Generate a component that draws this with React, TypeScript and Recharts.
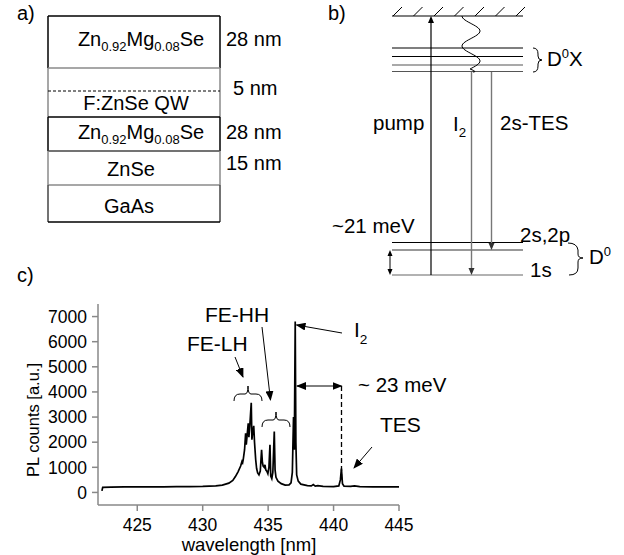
import React from "react";
import { LineChart, Line, XAxis, YAxis } from "recharts";

// PL spectrum (wavelength in nm, counts in a.u.)
const wavelength = [
  422.3, 422.36, 423, 424, 425, 426, 427, 428, 429, 430, 431, 431.5, 432, 432.3, 432.5, 432.7, 432.9, 433.0,
  433.05, 433.1, 433.2, 433.28, 433.33, 433.4, 433.48, 433.53, 433.6, 433.71, 433.76, 433.82, 433.9, 433.96,
  434.05, 434.12, 434.2, 434.3, 434.4, 434.5, 434.56, 434.62, 434.7, 434.76, 434.82, 434.9, 434.98, 435.06,
  435.14, 435.2, 435.28, 435.36, 435.47, 435.53, 435.6, 435.75, 436.0, 436.3, 436.6, 436.75, 436.85, 436.94,
  437.0, 437.07, 437.12, 437.18, 437.3, 437.5, 438.0, 438.3, 438.45, 438.6, 438.8, 439.2, 440.0, 440.4,
  440.52, 440.6, 440.68, 440.8, 441.3, 441.6, 442, 443, 444, 445,
];
const counts = [
  60, 200, 215, 220, 220, 225, 225, 230, 235, 240, 260, 290, 370, 480, 630, 820, 1050, 1230,
  1180, 1320, 1700, 2350, 1900, 2300, 2750, 2200, 2650, 3570, 2100, 2400, 2650, 2000,
  1300, 950, 780, 700, 850, 1700, 1200, 1050, 1000, 1100, 900, 850, 750, 1000,
  1900, 650, 550, 800, 2420, 900, 600, 450, 350, 290, 300, 380, 800, 3000,
  1700, 6800, 2000, 700, 450, 330, 270, 260, 310, 250, 270, 240, 230, 260,
  500, 950, 350, 250, 240, 260, 230, 220, 220, 220,
];

const xTicks = [425, 430, 435, 440, 445];
const xMinorTicks = [422.5, 427.5, 432.5, 437.5, 442.5];
const yTicks = [0, 1000, 2000, 3000, 4000, 5000, 6000, 7000];
const yMinorTicks = [500, 1500, 2500, 3500, 4500, 5500, 6500];

const spectrum = wavelength.map((w, i) => ({ w, c: counts[i] }));

const FONT = "'Liberation Sans', Arial, Helvetica, sans-serif";
const AXIS = "#888";
const GRAY = "#8a8a8a";
const blank = () => <g />;

function Subbed({ x, y, parts, size, anchor = "start" }: any) {
  // parts: [text, isSub][]
  let shift = 0;
  return (
    <text x={x} y={y} fontSize={size} textAnchor={anchor}>
      {parts.map(([t, sub]: [string, number], i: number) => {
        const dy = sub - shift;
        shift = sub;
        return (
          <tspan key={i} dy={dy} fontSize={sub !== 0 ? size * 0.65 : size}>
            {t}
          </tspan>
        );
      })}
    </text>
  );
}

function PanelA() {
  return (
    <g>
      <text x={17} y={20} fontSize={20}>a)</text>
      <line x1={48} y1={16} x2={220} y2={16} stroke="#000" strokeWidth={1.5} />
      <line x1={48} y1={16} x2={48} y2={68} stroke="#000" strokeWidth={1.5} />
      <line x1={220} y1={16} x2={220} y2={68} stroke="#000" strokeWidth={1.5} />
      <line x1={48} y1={68} x2={220} y2={68} stroke={GRAY} strokeWidth={1.5} />
      <line x1={48} y1={68} x2={48} y2={117} stroke={GRAY} strokeWidth={1.5} />
      <line x1={220} y1={68} x2={220} y2={117} stroke={GRAY} strokeWidth={1.5} />
      <line x1={48} y1={91} x2={220} y2={91} stroke="#000" strokeWidth={1} strokeDasharray="3 2" />
      <line x1={48} y1={117} x2={220} y2={117} stroke="#000" strokeWidth={1.5} />
      <line x1={48} y1={117} x2={48} y2={151} stroke="#000" strokeWidth={1.5} />
      <line x1={220} y1={117} x2={220} y2={151} stroke="#000" strokeWidth={1.5} />
      <line x1={48} y1={151} x2={220} y2={151} stroke="#444" strokeWidth={1.5} />
      <line x1={48} y1={151} x2={48} y2={185} stroke={GRAY} strokeWidth={1.5} />
      <line x1={220} y1={151} x2={220} y2={185} stroke={GRAY} strokeWidth={1.5} />
      <line x1={48} y1={185} x2={220} y2={185} stroke={GRAY} strokeWidth={1.5} />
      <line x1={48} y1={185} x2={48} y2={222} stroke="#444" strokeWidth={1.5} />
      <line x1={220} y1={185} x2={220} y2={222} stroke="#444" strokeWidth={1.5} />
      <line x1={48} y1={222} x2={220} y2={222} stroke="#000" strokeWidth={1.5} />
      <Subbed x={141} y={46} size={20} anchor="middle" parts={[["Zn", 0], ["0.92", 5], ["Mg", 0], ["0.08", 5], ["Se", 0]]} />
      <Subbed x={141} y={139} size={20} anchor="middle" parts={[["Zn", 0], ["0.92", 5], ["Mg", 0], ["0.08", 5], ["Se", 0]]} />
      <text x={226} y={46} fontSize={20}>28 nm</text>
      <text x={233} y={95} fontSize={20}>5 nm</text>
      <text x={136} y={110} fontSize={20} textAnchor="middle">F:ZnSe QW</text>
      <text x={226} y={139} fontSize={20}>28 nm</text>
      <text x={226} y={170} fontSize={20}>15 nm</text>
      <text x={131} y={176} fontSize={20} textAnchor="middle">ZnSe</text>
      <text x={129} y={213} fontSize={20} textAnchor="middle">GaAs</text>
    </g>
  );
}

function PanelB() {
  const hatches = [0, 1, 2, 3, 4, 5, 6];
  const levels = [48, 56.5, 65, 71.5];
  let wave = "M462 16";
  for (let y = 16; y <= 69; y += 1) {
    const x = 471 - 9 * Math.cos(((y - 16) / 30) * 2 * Math.PI);
    wave += ` L${x.toFixed(1)} ${y}`;
  }
  wave += " Q478 72 473 72";
  return (
    <g>
      <text x={328} y={20} fontSize={20}>b)</text>
      <line x1={392} y1={16} x2={523} y2={16} stroke="#000" strokeWidth={1.2} />
      {hatches.map((i) => (
        <line key={i} x1={393 + i * 20.5} y1={16} x2={402 + i * 20.5} y2={7} stroke="#000" strokeWidth={1} />
      ))}
      {levels.map((y, i) => (
        <line key={y} x1={392} y1={y} x2={523} y2={y} stroke={i < 2 ? "#000" : "#555"} strokeWidth={1.2} />
      ))}
      <line x1={392} y1={242.5} x2={523} y2={242.5} stroke="#000" strokeWidth={1.2} />
      <line x1={392} y1={250} x2={523} y2={250} stroke="#333" strokeWidth={1.2} />
      <line x1={392} y1={275} x2={523} y2={275} stroke="#666" strokeWidth={1.2} />
      <path d={wave} fill="none" stroke="#000" strokeWidth={1} />
      {/* pump */}
      <line x1={431} y1={275} x2={431} y2={20} stroke="#000" strokeWidth={1.2} />
      <path d="M431 16 L428 23 L434 23 Z" fill="#000" />
      {/* I2 */}
      <line x1={471.5} y1={72} x2={471.5} y2={270} stroke="#777" strokeWidth={1.4} />
      <path d="M471.5 275 L468.5 268 L474.5 268 Z" fill="#333" />
      {/* 2s-TES */}
      <line x1={491.5} y1={72} x2={491.5} y2={245} stroke="#777" strokeWidth={1.4} />
      <path d="M491.5 250 L488.5 243 L494.5 243 Z" fill="#333" />
      {/* ~21 meV */}
      <line x1={390} y1={254} x2={390} y2={271} stroke="#000" strokeWidth={1} />
      <path d="M390 250 L387.5 256 L392.5 256 Z" fill="#000" />
      <path d="M390 275 L387.5 269 L392.5 269 Z" fill="#000" />
      {/* braces */}
      <path d="M533 48 Q538 48 538 54 L538 56 Q538 60 542 60 Q538 60 538 64 L538 66 Q538 72 533 72" fill="none" stroke="#000" strokeWidth={1} />
      <path d="M568 243 Q577 243 578 250 L578 254 Q578 258 583 258 Q578 258 578 262 L578 268 Q578 275 569 275" fill="none" stroke="#000" strokeWidth={1} />
      <text x={373} y={130} fontSize={20.5}>pump</text>
      <Subbed x={453} y={131} size={20.5} parts={[["I", 0], ["2", 6]]} />
      <text x={500} y={130} fontSize={20.5}>2s-TES</text>
      <text x={547} y={66} fontSize={20.5}>
        D<tspan dy={-8} fontSize={13}>0</tspan><tspan dy={8}>X</tspan>
      </text>
      <text x={332} y={233} fontSize={20.5}>~21 meV</text>
      <text x={520} y={242} fontSize={20.5}>2s,2p</text>
      <text x={530} y={277} fontSize={20.5}>1s</text>
      <text x={589} y={264} fontSize={20.5}>
        D<tspan dy={-8} fontSize={13}>0</tspan>
      </text>
    </g>
  );
}

function AnnotationsC() {
  return (
    <g>
      <defs>
        <marker id="ah" markerUnits="userSpaceOnUse" markerWidth={10} markerHeight={8} refX={9} refY={4} orient="auto-start-reverse">
          <path d="M0 0 L10 4 L0 8 Z" fill="#000" />
        </marker>
      </defs>
      <text x={17} y={282} fontSize={20}>c)</text>
      <text x={205} y={322} fontSize={21}>FE-HH</text>
      <text x={187} y={351} fontSize={21}>FE-LH</text>
      <line x1={235} y1={357} x2={243} y2={377} stroke="#000" strokeWidth={1} markerEnd="url(#ah)" />
      <line x1={262} y1={327} x2={270.5} y2={400} stroke="#000" strokeWidth={1} markerEnd="url(#ah)" />
      <path d="M234 401 Q234 394 240 394 L245 394 Q248 394 248 386 Q248 394 251 394 L256 394 Q262 394 262 401" fill="none" stroke="#000" strokeWidth={1} />
      <path d="M262 427 Q262 420 268 420 L273 420 Q276 420 276 412 Q276 420 279 420 L284 420 Q290 420 290 427" fill="none" stroke="#000" strokeWidth={1} />
      <line x1={342} y1={333} x2={296.5} y2={325} stroke="#000" strokeWidth={1} markerEnd="url(#ah)" />
      <Subbed x={354} y={337} size={21} parts={[["I", 0], ["2", 7]]} />
      <line x1={297} y1={386} x2={341.5} y2={386} stroke="#000" strokeWidth={1} markerStart="url(#ah)" markerEnd="url(#ah)" />
      <line x1={341.5} y1={386} x2={341.5} y2={480} stroke="#000" strokeWidth={1.3} strokeDasharray="5 3" />
      <text x={358} y={392} fontSize={20.5}>~ 23 meV</text>
      <text x={380} y={432} fontSize={21}>TES</text>
      <line x1={372} y1={447} x2={354} y2={468} stroke="#000" strokeWidth={1} markerEnd="url(#ah)" />
      <text x={249} y={551} fontSize={18.5} textAnchor="middle">wavelength [nm]</text>
      <text transform="translate(33,420) rotate(-90)" fontSize={16.5} textAnchor="middle" dy="0.35em">PL counts [a.u.]</text>
    </g>
  );
}

export default function App() {
  const tickStyle = { fill: "#000", fontSize: 17.5, fontFamily: FONT };
  return (
    <div style={{ position: "absolute", left: 0, top: 0, width: 624, height: 555, background: "#fff", fontFamily: FONT }}>
      <svg width={624} height={555} style={{ position: "absolute", left: 0, top: 0, fontFamily: FONT }}>
        <PanelA />
        <PanelB />
      </svg>
      <div style={{ position: "absolute", left: 0, top: 290 }}>
        <LineChart width={420} height={265} data={spectrum} margin={{ top: 14, right: 21, bottom: 20, left: 0 }}>
          <XAxis xAxisId="minor" type="number" dataKey="w" domain={[422, 445]} ticks={xMinorTicks} interval={0}
            height={0} tickSize={3} axisLine={false} tick={blank} stroke={AXIS} allowDataOverflow />
          <XAxis xAxisId="main" type="number" dataKey="w" domain={[422, 445]} ticks={xTicks} interval={0}
            height={30} tickSize={6} tickMargin={8} stroke={AXIS} strokeWidth={1.5} tick={tickStyle} allowDataOverflow />
          <YAxis yAxisId="minor" type="number" domain={[-500, 7500]} ticks={yMinorTicks} interval={0}
            width={0} tickSize={3} axisLine={false} tick={blank} stroke={AXIS} allowDataOverflow />
          <YAxis yAxisId="main" type="number" domain={[-500, 7500]} ticks={yTicks} interval={0}
            width={98} tickSize={6} tickMargin={5} stroke={AXIS} strokeWidth={1.5} tick={tickStyle} allowDataOverflow />
          <Line xAxisId="main" yAxisId="main" type="linear" dataKey="c" stroke="#000" strokeWidth={1.7}
            dot={false} isAnimationActive={false} />
        </LineChart>
      </div>
      <svg width={624} height={555} style={{ position: "absolute", left: 0, top: 0, pointerEvents: "none", fontFamily: FONT }}>
        <AnnotationsC />
      </svg>
    </div>
  );
}
